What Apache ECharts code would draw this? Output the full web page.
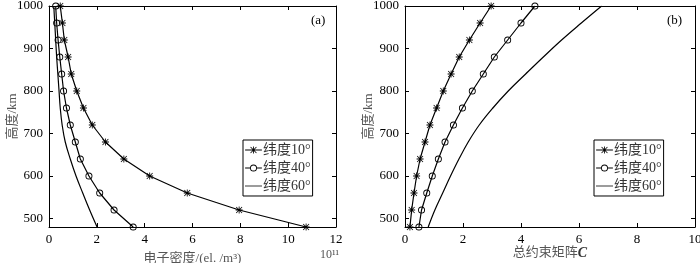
<!DOCTYPE html>
<html>
<head>
<meta charset="utf-8">
<script src="https://cdn.jsdelivr.net/npm/echarts@6/dist/echarts.min.js"></script>
<style>
  html, body { margin: 0; padding: 0; background: #fff; }
  #main { width: 700px; height: 263px; }
</style>
</head>
<body>
<div id="main"></div>
<script>
// heights (km) shared by all curves
var heights = [480, 520, 560, 600, 640, 680, 720, 760, 800, 840, 880, 920, 960, 1000];
var yTicks = [500, 600, 700, 800, 900, 1000];
var names = ['纬度10°', '纬度40°', '纬度60°'];

// (a) electron density, x 10^11 el/m^3
var densLat10 = [10.75, 7.95, 5.78, 4.21, 3.13, 2.36, 1.81, 1.44, 1.16, 0.93, 0.80, 0.64, 0.56, 0.47];
var densLat40 = [3.52, 2.72, 2.12, 1.67, 1.31, 1.10, 0.89, 0.73, 0.61, 0.53, 0.45, 0.38, 0.32, 0.28];
var densLat60 = [2.01, 1.70, 1.41, 1.13, 0.89, 0.68, 0.55, 0.47, 0.42, 0.37, 0.32, 0.28, 0.24, 0.20];

// (b) total constraint matrix C
var cLat10 = [0.17, 0.23, 0.31, 0.40, 0.52, 0.69, 0.86, 1.09, 1.32, 1.59, 1.87, 2.22, 2.59, 2.97];
var cLat40 = [0.48, 0.57, 0.75, 0.94, 1.15, 1.38, 1.67, 1.98, 2.32, 2.70, 3.08, 3.54, 4.00, 4.48];
var cLat60 = [0.80, 1.03, 1.30, 1.57, 1.86, 2.18, 2.56, 3.03, 3.56, 4.16, 4.77, 5.40, 6.08, 6.78];

// marker shapes (MATLAB-like '*' and 'o')
var starD = 'M4.4,0H5.6V10H4.4Z M0,4.4H10V5.6H0Z M1.2,0.4L9.6,8.8L8.8,9.6L0.4,1.2Z M8.8,0.4L9.6,1.2L1.2,9.6L0.4,8.8Z';
var ringD = 'M5,0A5,5 0 1,1 5,10A5,5 0 1,1 5,0Z M5,1.3A3.7,3.7 0 1,0 5,8.7A3.7,3.7 0 1,0 5,1.3Z';
var star = 'path://' + starD;
var ring = 'path://' + ringD;
// legend icons: line + marker in one path (24 x 10 box)
var lineD = 'M0,4.45H24V5.55H0Z';
var starShift = starD.replace(/(-?\d+\.?\d*),(-?\d+\.?\d*)/g, function (m, x, y) { return (parseFloat(x) + 7) + ',' + y; })
  .replace(/H(\d+\.?\d*)/g, function (m, x) { return 'H' + (parseFloat(x) + 7); });
var ringShift = 'M12,0A5,5 0 1,1 12,10A5,5 0 1,1 12,0Z M12,1.3A3.7,3.7 0 1,0 12,8.7A3.7,3.7 0 1,0 12,1.3Z';
var iconStar = 'path://' + lineD + ' ' + starShift;
var iconRing = 'path://M0,4.45H7V5.55H0Z M17,4.45H24V5.55H17Z ' + ringShift;
var iconLine = 'path://M0,0H24V1.1H0Z';

var serif = '"Liberation Serif", "Times New Roman", "Noto Sans CJK SC", serif';

function pairs(xs) {
  return xs.map(function (v, i) { return [v, heights[i]]; });
}

function mainX(idx, max, name, gap) {
  return {
    type: 'value', gridIndex: idx, min: 0, max: max, interval: 2, position: 'bottom',
    name: name, nameLocation: 'middle', nameGap: gap, nameMoveOverlap: false,
    nameTextStyle: { fontFamily: serif, fontSize: 13, color: '#555',
      rich: { c: { fontFamily: serif, fontSize: 14, fontStyle: 'italic', fontWeight: 'bold', color: '#333' } } },
    axisLine: { onZero: false, lineStyle: { color: '#000', width: 1 } },
    axisTick: { inside: true, length: 4, lineStyle: { color: '#000' } },
    axisLabel: { fontFamily: serif, fontSize: 13, color: '#000', margin: 6 },
    splitLine: { show: false }
  };
}
function topX(idx, max) {
  return {
    type: 'value', gridIndex: idx, min: 0, max: max, interval: 2, position: 'top',
    axisLine: { onZero: false, lineStyle: { color: '#000', width: 1 } },
    axisTick: { inside: true, length: 4, lineStyle: { color: '#000' } },
    axisLabel: { show: false }, splitLine: { show: false }
  };
}
function mainY(idx) {
  return {
    type: 'value', gridIndex: idx, min: 480, max: 1000, position: 'left',
    name: '高度/km', nameLocation: 'middle', nameGap: 30, nameRotate: 90, nameMoveOverlap: false,
    nameTextStyle: { fontFamily: serif, fontSize: 13, color: '#555' },
    axisLine: { onZero: false, lineStyle: { color: '#000', width: 1 } },
    axisTick: { inside: true, length: 4, customValues: yTicks, lineStyle: { color: '#000' } },
    axisLabel: { fontFamily: serif, fontSize: 13, color: '#000', margin: 6, customValues: yTicks,
      formatter: function (v) { return String(v); } },
    splitLine: { show: false }
  };
}
function rightY(idx) {
  return {
    type: 'value', gridIndex: idx, min: 480, max: 1000, position: 'right',
    axisLine: { onZero: false, lineStyle: { color: '#000', width: 1 } },
    axisTick: { inside: true, length: 4, customValues: yTicks, lineStyle: { color: '#000' } },
    axisLabel: { show: false }, splitLine: { show: false }
  };
}

function seriesSet(gi, a, b, c) {
  var base = function (name, data, sym, size) {
    return {
      name: name, type: 'line', xAxisIndex: gi * 2, yAxisIndex: gi * 2,
      data: pairs(data), symbol: sym, symbolSize: size, showSymbol: sym !== 'none',
      lineStyle: { color: '#000', width: 1.2 },
      itemStyle: { color: '#000' },
      emphasis: { disabled: true }, animation: false
    };
  };
  var s3 = base(names[2], c, 'none', 0);
  s3.smooth = 0.4;
  return [base(names[0], a, star, 7), base(names[1], b, ring, 7), s3];
}

function legendAt(left, top) {
  return {
    data: [
      { name: names[0], icon: iconStar },
      { name: names[1], icon: iconRing },
      { name: names[2], icon: iconLine }
    ],
    orient: 'vertical', left: left, top: top, itemGap: 4, itemWidth: 17, itemHeight: 7,
    padding: [3, 2, 3, 2], borderColor: '#000', borderWidth: 1, backgroundColor: '#fff',
    selectedMode: false,
    itemStyle: { color: '#000', borderWidth: 0 },
    textStyle: { fontFamily: serif, fontSize: 14, color: '#333', padding: [0, 0, 0, -4] }
  };
}

var chart = echarts.init(document.getElementById('main'), null, { renderer: 'canvas' });
chart.setOption({
  backgroundColor: '#fff',
  animation: false,
  grid: [
    { left: 49, top: 6, width: 287, height: 221, containLabel: false, outerBoundsMode: 'none' },
    { left: 405, top: 6, width: 290, height: 221, containLabel: false, outerBoundsMode: 'none' }
  ],
  xAxis: [mainX(0, 12, '电子密度/(el. /m³)', 25), topX(0, 12), mainX(1, 10, '总约束矩阵{c|C}', 19), topX(1, 10)],
  yAxis: [mainY(0), rightY(0), mainY(1), rightY(1)],
  legend: [legendAt(243, 140), legendAt(594, 140)],
  series: seriesSet(0, densLat10, densLat40, densLat60).concat(seriesSet(1, cLat10, cLat40, cLat60)),
  graphic: [
    { type: 'text', left: 311, top: 14, style: { text: '(a)', font: '13px ' + serif, fill: '#000' } },
    { type: 'text', left: 667, top: 14, style: { text: '(b)', font: '13px ' + serif, fill: '#000' } },
    { type: 'text', left: 320, top: 249, style: { text: '10¹¹', font: '12px ' + serif, fill: '#555' } }
  ]
});
</script>
</body>
</html>
